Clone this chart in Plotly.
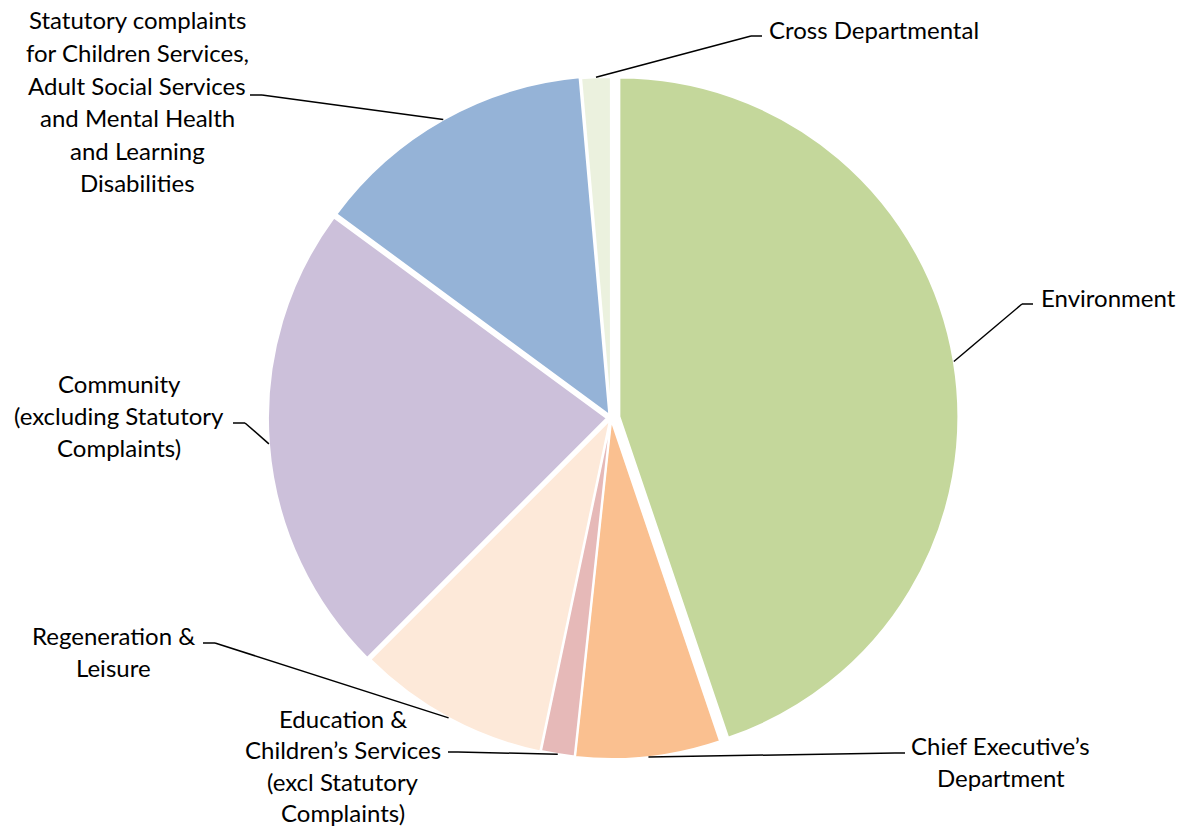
import math
import plotly.graph_objects as go

# ---------------- data ----------------
categories = [
    "Environment",
    "Chief Executive’s Department",
    "Education & Children’s Services (excl Statutory Complaints)",
    "Regeneration & Leisure",
    "Community (excluding Statutory Complaints)",
    "Statutory complaints for Children Services, Adult Social Services and Mental Health and Learning Disabilities",
    "Cross Departmental",
]
values = [44.8, 6.9, 1.6, 9.2, 22.6, 13.5, 1.4]
label_lines = [
    ["Environment"],
    ["Chief Executive’s", "Department"],
    ["Education &", "Children’s Services", "(excl Statutory", "Complaints)"],
    ["Regeneration &", "Leisure"],
    ["Community", "(excluding Statutory", "Complaints)"],
    ["Statutory complaints", "for Children Services,", "Adult Social Services",
     "and Mental Health", "and Learning", "Disabilities"],
    ["Cross Departmental"],
]

# ---------------- style / layout ----------------
colors = ["#C4D79B", "#FAC090", "#E6B9B8", "#FDE9D9", "#CCC0DA", "#95B3D7", "#EBF1DE"]
pulls = [0.025, 0.006, 0.004, 0.006, 0.012, 0.01, 0.006]
W, H = 1187, 828
CX, CY, R = 611, 418, 339          # pie centre / radius in pixels
# label text centre (x, first-line y) in pixels
label_pos = [(1108, 297), (1001, 745), (343, 718), (113, 635), (119, 383), (137, 20), (874, 29)]
# leader line: label-side start point and elbow point in pixels
leader_pts = [((1033, 304), (1022, 304)), ((905, 753), (895, 753)), ((448, 752), (458, 752)),
              ((203, 643), (215, 643)), ((233, 423), (245, 423)), ((250, 95), (262, 95)),
              ((762, 36), (751, 36))]
LINE_H = 32.5
FONT = dict(family="Lato, 'Open Sans', sans-serif", size=24, color="#000000")

maxpull = max(pulls)
half = R * (1 + maxpull)


def px(x):
    return x / W


def py(y):
    return 1 - y / H


fig = go.Figure(go.Pie(
    labels=categories, values=values, sort=False, direction="clockwise", rotation=0,
    marker=dict(colors=colors, line=dict(color="white", width=2)),
    pull=pulls, textinfo="none", hoverinfo="label+percent", showlegend=False,
    domain=dict(x=[px(CX - half), px(CX + half)], y=[py(CY + half), py(CY - half)]),
))

total = sum(values)
cum = 0.0
shapes, annotations = [], []
for i, v in enumerate(values):
    mid = (cum + v / 2) / total * 2 * math.pi
    cum += v
    rr = R * (1 + pulls[i])
    ex = CX + rr * math.sin(mid)
    ey = CY - rr * math.cos(mid)
    (sx, sy), (bx, by) = leader_pts[i]
    for (x0, y0, x1, y1) in [(sx, sy, bx, by), (bx, by, ex, ey)]:
        shapes.append(dict(type="line", xref="paper", yref="paper",
                           x0=px(x0), y0=py(y0), x1=px(x1), y1=py(y1),
                           line=dict(color="black", width=1.5)))
    lx, ly = label_pos[i]
    n = len(label_lines[i])
    step = LINE_H if i != 2 else 31.5
    for k, t in enumerate(label_lines[i]):
        annotations.append(dict(text=t, x=px(lx), y=py(ly + k * step), xref="paper", yref="paper",
                                xanchor="center", yanchor="middle", showarrow=False, font=FONT))

fig.update_layout(width=W, height=H, margin=dict(l=0, r=0, t=0, b=0),
                  paper_bgcolor="white", plot_bgcolor="white",
                  shapes=shapes, annotations=annotations)
fig.write_html("out.html")
